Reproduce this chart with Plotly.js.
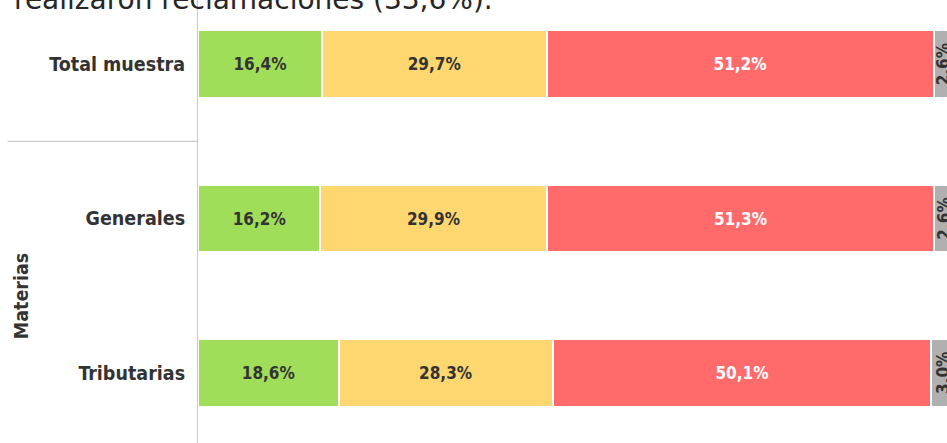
<!DOCTYPE html>
<html>
<head>
<meta charset="utf-8">
<script src="https://cdn.plot.ly/plotly-3.0.1.min.js"></script>
<style>
html,body{margin:0;padding:0;overflow:hidden;background:#fff;width:947px;height:443px;}
#chart{position:absolute;left:0;top:-50px;width:1000px;height:560px;}
</style>
</head>
<body>
<div id="chart"></div>
<script>
const categories = ['Total muestra', 'Generales', 'Tributarias'];
const seriesNames = ['Serie 1', 'Serie 2', 'Serie 3', 'Serie 4'];
const greenValues = [16.4, 16.2, 18.6];
const yellowValues = [29.7, 29.9, 28.3];
const redValues = [51.2, 51.3, 50.1];
const grayValues = [2.6, 2.6, 3.0];
const groupLabel = 'Materias';
const titleText = 'realizaron reclamaciones (33,6%).';

const colors = ['#a0de5a', '#ffd771', '#ff6b6b', '#b0b0b0'];
const textColors = ['#333333', '#333333', '#ffffff', '#333333'];
const allValues = [greenValues, yellowValues, redValues, grayValues];
const fam = '"DejaVu Sans Condensed", "DejaVu Sans", sans-serif';
const fmt = v => v.toFixed(1).replace('.', ',') + '%';

const traces = allValues.map((vals, i) => ({
  type: 'bar',
  orientation: 'h',
  name: seriesNames[i],
  y: categories,
  x: vals,
  text: vals.map(fmt),
  textposition: 'inside',
  insidetextanchor: 'middle',
  constraintext: 'none',
  textangle: i === 3 ? -90 : 0,
  textfont: {family: fam, size: 17, color: textColors[i], weight: 'bold'},
  marker: {color: colors[i], line: {color: '#ffffff', width: 2}},
  hoverinfo: 'skip'
}));

const layout = {
  width: 1000,
  height: 560,
  margin: {l: 198, r: 46, t: 37, b: 60, pad: 0},
  barmode: 'stack',
  bargap: 0.56,
  showlegend: false,
  paper_bgcolor: '#ffffff',
  plot_bgcolor: '#ffffff',
  xaxis: {range: [0, 100], visible: false, fixedrange: true},
  yaxis: {
    type: 'category',
    categoryorder: 'array',
    categoryarray: categories,
    range: [2.5, -0.5],
    showline: true,
    linecolor: '#c8c8c8',
    linewidth: 1,
    showgrid: false,
    zeroline: false,
    ticks: 'outside',
    ticklen: 0,
    ticklabelstandoff: 8,
    tickfont: {family: fam, size: 19.5, color: '#333333', weight: 'bold'}
  },
  shapes: [{
    type: 'line', xref: 'paper', yref: 'y',
    x0: -0.252, x1: 0, y0: 0.5, y1: 0.5,
    line: {color: '#bfbfbf', width: 1}
  }],
  annotations: [
    {
      text: groupLabel, xref: 'paper', yref: 'y', x: -0.2334, y: 1.5,
      xanchor: 'center', yanchor: 'middle', textangle: -90, showarrow: false,
      font: {family: fam, size: 19.5, color: '#333333', weight: 'bold'}
    },
    {
      text: titleText, xref: 'paper', yref: 'paper', x: -0.2454, y: 0.9722,
      xanchor: 'left', yanchor: 'middle', showarrow: false,
      font: {family: '"DejaVu Sans", sans-serif', size: 28, color: '#262626'}
    }
  ]
};

Plotly.newPlot('chart', traces, layout, {staticPlot: true, displayModeBar: false});
</script>
</body>
</html>
